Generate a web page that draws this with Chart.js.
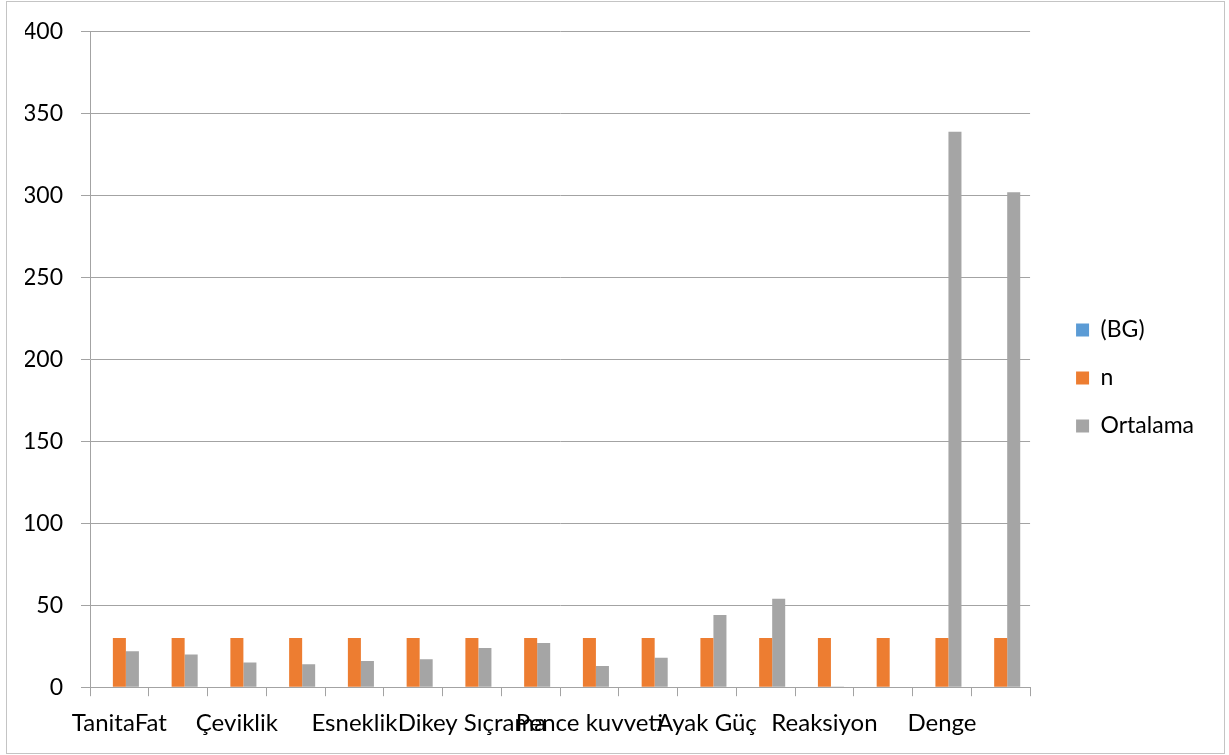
<!DOCTYPE html>
<html lang="tr">
<head>
<meta charset="utf-8">
<title>Ortalama</title>
<script src="https://cdn.jsdelivr.net/npm/chart.js@4/dist/chart.umd.min.js"></script>
<style>
  html, body { margin: 0; padding: 0; background: #fff; }
  .wrap { position: relative; width: 1229px; height: 755px; }
  .frame {
    position: absolute; left: 6px; top: 1px; width: 1217px; height: 751px;
    border: 1.5px solid #c4c4c4; pointer-events: none;
  }
  canvas { display: block; }
</style>
</head>
<body>
<div class="wrap">
  <canvas id="chart" width="1229" height="755"></canvas>
  <div class="frame"></div>
</div>
<script>
/* ── Data ── */
const CATEGORIES = [
  'TanitaFat', '', 'Çeviklik', '', 'Esneklik', '', 'Dikey Sıçrama', '',
  'Pence kuvveti', '', 'Ayak Güç', '', 'Reaksiyon', '', 'Denge', ''
];
const BG       = [0, 0, 0, 0, 0, 0, 0, 0, 0, 0, 0, 0, 0, 0, 0, 0];
const N        = [30, 30, 30, 30, 30, 30, 30, 30, 30, 30, 30, 30, 30, 30, 30, 30];
const ORTALAMA = [22, 20, 15, 14, 16, 17, 24, 27, 13, 18, 44, 54, 0.4, 0, 339, 302];
const Y_TICKS  = [0, 50, 100, 150, 200, 250, 300, 350, 400];

const GRID   = '#a3a3a3';
const FAMILY = 'Lato, "Open Sans", sans-serif';

Chart.defaults.font.family = FAMILY;
Chart.defaults.color = '#000';

/* ── Lift the legend block a little above the vertical centre ── */
const legendLift = {
  id: 'legendLift',
  afterLayout(chart) {
    if (chart.legend) chart.legend.bottom -= 26;
  },
};

new Chart(document.getElementById('chart'), {
  type: 'bar',
  plugins: [legendLift],
  data: {
    labels: CATEGORIES,
    datasets: [
      { label: '(BG)',     data: BG,       backgroundColor: '#5b9bd5' },
      { label: 'n',        data: N,        backgroundColor: '#ed7d31' },
      { label: 'Ortalama', data: ORTALAMA, backgroundColor: '#a5a5a5' },
    ],
  },
  options: {
    responsive: false,
    animation: false,
    events: [],
    layout: { padding: { left: 25, top: 31, right: 25, bottom: 4 } },
    datasets: {
      bar: { categoryPercentage: 0.665, barPercentage: 1.0, borderWidth: 0 },
    },
    plugins: {
      tooltip: { enabled: false },
      legend: {
        position: 'right',
        align: 'center',
        labels: {
          font: { family: FAMILY, size: 23 },
          color: '#000',
          boxWidth: 13,
          boxHeight: 13,
          padding: 25,
        },
      },
    },
    scales: {
      x: {
        offset: true,
        grid: {
          offset: true,
          drawOnChartArea: false,
          drawTicks: true,
          tickLength: 9,
          color: GRID,
          lineWidth: 1,
        },
        border: { color: GRID, width: 1 },
        ticks: {
          font: { family: FAMILY, size: 24 },
          color: '#000',
          autoSkip: false,
          maxRotation: 0,
          minRotation: 0,
          padding: 13,
        },
      },
      y: {
        min: 0,
        max: 400,
        afterBuildTicks: axis => { axis.ticks = Y_TICKS.map(v => ({ value: v })); },
        afterFit: axis => { axis.width = 65; },
        grid: { color: GRID, lineWidth: 1, tickLength: 9 },
        border: { color: GRID, width: 1 },
        ticks: { font: { family: FAMILY, size: 23 }, color: '#000', padding: 18 },
      },
      // empty strip between the plot and the legend
      gap: {
        position: 'right',
        display: true,
        grid: { display: false },
        border: { display: false },
        ticks: { display: false },
        afterFit: axis => { axis.width = 21; },
      },
    },
  },
});
</script>
</body>
</html>
